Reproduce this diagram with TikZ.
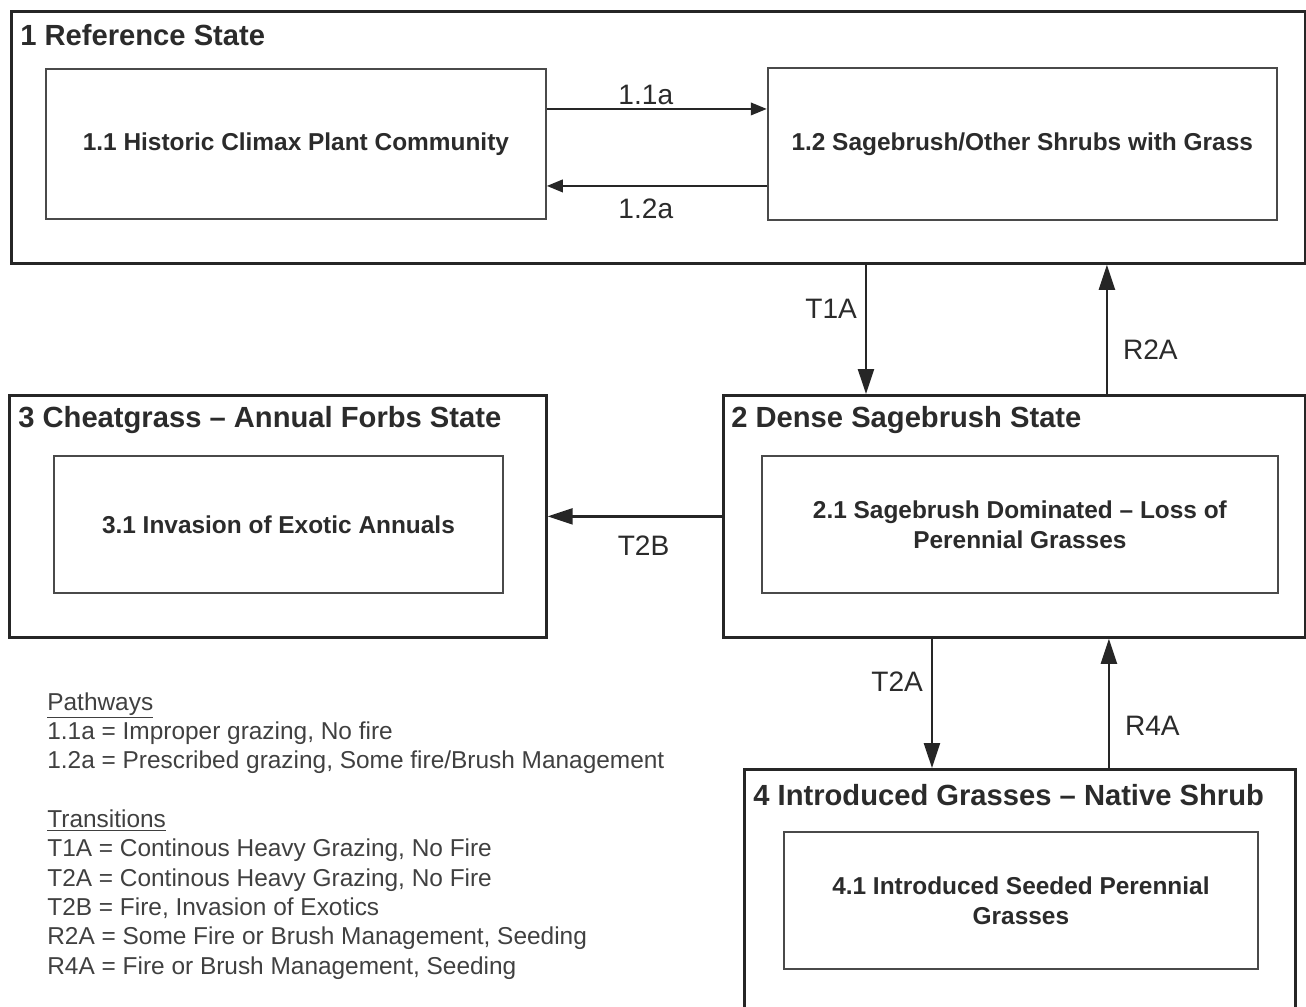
\documentclass[tikz,border=0pt]{standalone}
\usepackage{fontspec}
\setmainfont{Liberation Sans}
\usetikzlibrary{positioning,arrows.meta}
\definecolor{boxdark}{HTML}{262626}
\definecolor{boxgray}{HTML}{4A4A4A}
\definecolor{textdark}{HTML}{2B2B2B}
\definecolor{textgray}{HTML}{404040}

\begin{document}
\begin{tikzpicture}[x=0.02cm,y=-0.02cm,
	statebox/.style={draw=boxdark,line width=1.6pt,anchor=north west,inner sep=0pt},
	phasebox/.style={draw=boxgray,line width=1.1pt,anchor=north west,align=center,text=textdark,font=\fontsize{13.9}{17}\selectfont\bfseries},
	statetitle/.style={anchor=west,inner sep=0pt,text=textdark,font=\fontsize{16.6}{20}\selectfont\bfseries},
	arrlabel/.style={inner sep=1.5pt,text=textdark,font=\fontsize{16}{19}\selectfont},
	legend/.style={anchor=north west,inner sep=0pt,align=left,text=textgray,font=\fontsize{13.9}{16.7}\selectfont},
	pathway/.style={draw=boxdark,line width=1.3pt,-{Triangle[length=0.32cm,width=0.25cm]}},
	trans/.style={draw=boxdark,line width=1.3pt,-{Triangle[length=0.5cm,width=0.32cm]}}]
	\useasboundingbox (0,0) rectangle (1306,1007);
	\clip (0,0) rectangle (1306,1007);
	% reference state
	\node[statebox,minimum width=25.88cm,minimum height=5.04cm] (ref) at (10,10) {};
	\node[statetitle] (reftitle) at (20,35) {1 Reference State};
	\node[phasebox,minimum width=10cm,minimum height=3cm] (hcpc) at (45,68) {1.1 Historic Climax Plant Community};
	\node[phasebox,minimum width=10.18cm,minimum height=3.04cm,right=4.4cm of hcpc] (shrubgrass) {1.2 Sagebrush/Other Shrubs with Grass};
	% dense sagebrush state
	\node[statebox,minimum width=11.64cm,minimum height=4.84cm] (dense) at (722,394) {};
	\node[statetitle] (densetitle) at (731,420) {2 Dense Sagebrush State};
	\node[phasebox,minimum width=10.32cm,minimum height=2.74cm] (sagedom) at (761,455) {2.1 Sagebrush Dominated – Loss of\\Perennial Grasses};
	% cheatgrass state
	\node[statebox,minimum width=10.74cm,minimum height=4.84cm] (cheat) at (8,394) {};
	\node[statetitle] (cheattitle) at (18,420) {3 Cheatgrass – Annual Forbs State};
	\node[phasebox,minimum width=8.98cm,minimum height=2.74cm] (exotic) at (53,455) {3.1 Invasion of Exotic Annuals};
	% introduced grasses state
	\node[statebox,minimum width=11.02cm,minimum height=5.6cm] (introd) at (743,768) {};
	\node[statetitle] (introdtitle) at (753,795) {4 Introduced Grasses – Native Shrub};
	\node[phasebox,minimum width=9.48cm,minimum height=2.74cm] (seeded) at (783,831) {4.1 Introduced Seeded Perennial\\Grasses};
	% pathways and transitions
	\draw[pathway] ([yshift=0.7cm]hcpc.east) -- ([yshift=0.7cm]hcpc.east -| shrubgrass.west) node[arrlabel,pos=0.45,above] {1.1a};
	\draw[pathway] ([yshift=-0.84cm]hcpc.east -| shrubgrass.west) -- ([yshift=-0.84cm]hcpc.east) node[arrlabel,pos=0.55,below=5pt] {1.2a};
	\draw[trans] ([xshift=2.88cm]dense.north west |- ref.south) -- ([xshift=2.88cm]dense.north west) node[arrlabel,pos=0.34,left=3pt] {T1A};
	\draw[trans] ([xshift=7.7cm]dense.north west) -- ([xshift=7.7cm]dense.north west |- ref.south) node[arrlabel,pos=0.34,right=7pt] {R2A};
	\draw[trans] (dense.west) -- (cheat.east) node[arrlabel,pos=0.45,below=9pt] {T2B};
	\draw[trans] ([xshift=4.2cm]dense.south west) -- ([xshift=4.2cm]dense.south west |- introd.north) node[arrlabel,pos=0.33,left=3pt] {T2A};
	\draw[trans] ([xshift=7.74cm]dense.south west |- introd.north) -- ([xshift=7.74cm]dense.south west) node[arrlabel,pos=0.33,right=7pt] {R4A};
	% legend
	\node[legend] (key) at (47,692) {\underline{Pathways}\\
		1.1a = Improper grazing, No fire\\
		1.2a = Prescribed grazing, Some fire/Brush Management\\[16.7pt]
		\underline{Transitions}\\
		T1A = Continous Heavy Grazing, No Fire\\
		T2A = Continous Heavy Grazing, No Fire\\
		T2B = Fire, Invasion of Exotics\\
		R2A = Some Fire or Brush Management, Seeding\\
		R4A = Fire or Brush Management, Seeding};
\end{tikzpicture}
\end{document}
